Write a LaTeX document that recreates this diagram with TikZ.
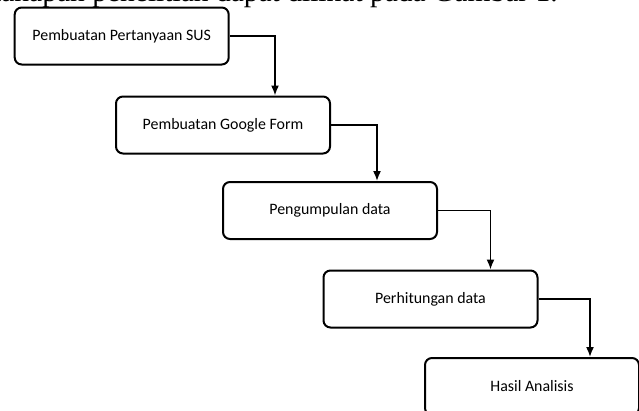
\documentclass[tikz,border=0pt]{standalone}
\usepackage{fontspec}
\setmainfont{Carlito}
\newfontfamily\captionserif{Liberation Serif}
\usetikzlibrary{arrows.meta}
\begin{document}
\begin{tikzpicture}[x=1pt,y=-1pt,
  stage/.style={draw=black, line width=2pt, rounded corners=7pt, minimum width=214pt, minimum height=57pt, inner sep=0pt, font=\fontsize{15.9}{19}\selectfont, text=black},
  flow/.style={line width=1.6pt, -{Latex[length=10pt,width=8pt]}}]
\useasboundingbox (0,0) rectangle (639,410);
\clip (0,0) rectangle (639,410);
\node[anchor=base west, font=\captionserif\fontsize{29.5}{30}\selectfont, inner sep=0pt] (cap) at (-7,1.5) {tahapan penelitian dapat dilihat pada Gambar 1.};
\node[stage] (s1) at (121.7,36) {Pembuatan Pertanyaan SUS};
\node[stage] (s2) at (223,125) {Pembuatan Google Form};
\node[stage] (s3) at (330,210.5) {Pengumpulan data};
\node[stage] (s4) at (430.5,299) {Perhitungan data};
\node[stage] (s5) at (532,386.5) {Hasil Analisis};
\draw[flow] (s1.east) -| ([xshift=160pt]s2.north west);
\draw[flow] (s2.east) -| ([xshift=155pt]s3.north west);
\draw[flow] (s3.east) -| ([xshift=168pt]s4.north west);
\draw[flow] (s4.east) -| ([xshift=166pt]s5.north west);
\end{tikzpicture}
\end{document}
